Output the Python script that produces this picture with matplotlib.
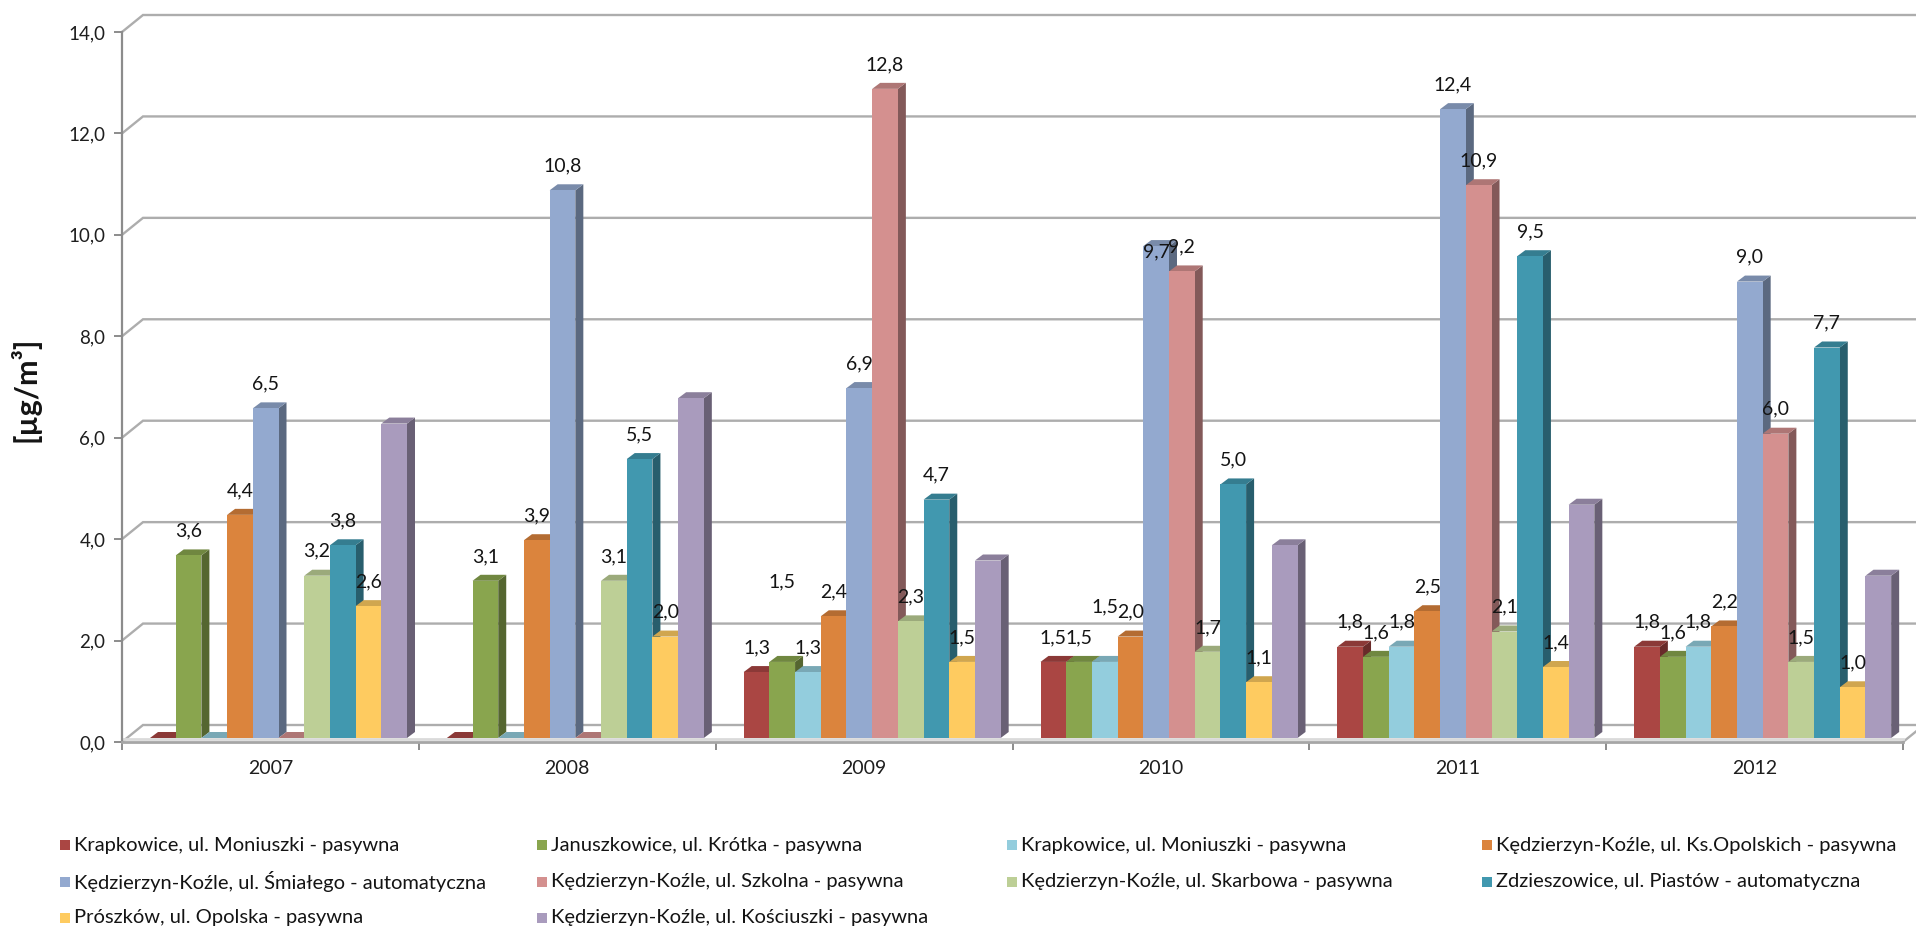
import matplotlib
matplotlib.use("Agg")
import matplotlib.pyplot as plt
from matplotlib.patches import Polygon, Rectangle
from matplotlib.ticker import FuncFormatter, FixedLocator
import matplotlib.colors as mcolors

# ---------------- data ----------------
years = ["2007", "2008", "2009", "2010", "2011", "2012"]
series_names = [
    "Krapkowice, ul. Moniuszki - pasywna",
    "Januszkowice, ul. Krótka - pasywna",
    "Krapkowice, ul. Moniuszki - pasywna",
    "Kędzierzyn-Koźle, ul. Ks.Opolskich - pasywna",
    "Kędzierzyn-Koźle, ul. Śmiałego - automatyczna",
    "Kędzierzyn-Koźle, ul. Szkolna - pasywna",
    "Kędzierzyn-Koźle, ul. Skarbowa - pasywna",
    "Zdzieszowice, ul. Piastów - automatyczna",
    "Prószków, ul. Opolska - pasywna",
    "Kędzierzyn-Koźle, ul. Kościuszki - pasywna",
]
krapkowice_a = [0.0, 0.0, 1.3, 1.5, 1.8, 1.8]
januszkowice = [3.6, 3.1, 1.5, 1.5, 1.6, 1.6]
krapkowice_b = [0.0, 0.0, 1.3, 1.5, 1.8, 1.8]
kk_opolskich = [4.4, 3.9, 2.4, 2.0, 2.5, 2.2]
kk_smialego = [6.5, 10.8, 6.9, 9.7, 12.4, 9.0]
kk_szkolna = [0.0, 0.0, 12.8, 9.2, 10.9, 6.0]
kk_skarbowa = [3.2, 3.1, 2.3, 1.7, 2.1, 1.5]
zdzieszowice = [3.8, 5.5, 4.7, 5.0, 9.5, 7.7]
proszkow = [2.6, 2.0, 1.5, 1.1, 1.4, 1.0]
kk_kosciuszki = [6.2, 6.7, 3.5, 3.8, 4.6, 3.2]
series_values = [krapkowice_a, januszkowice, krapkowice_b, kk_opolskich, kk_smialego,
                 kk_szkolna, kk_skarbowa, zdzieszowice, proszkow, kk_kosciuszki]
y_ticks = [0, 2, 4, 6, 8, 10, 12, 14]

# ---------------- style ----------------
colors = ["#AA4643", "#89A54E", "#93CDDD", "#DB843D", "#93A9CF",
          "#D4908F", "#BDCF96", "#4198AF", "#FECB60", "#A99BBD"]
show_label = [True] * 9 + [False]
# label nudges (year index, series index) -> extra offset in value units
label_nudge = {(2, 1): 1.1, (3, 2): 0.6, (3, 4): -0.6}

plt.rcParams['font.family'] = ['Lato', 'DejaVu Sans']

W, H = 1916, 933
fig = plt.figure(figsize=(W / 100, H / 100), dpi=100)
ax_left, ax_right, ax_bot, ax_top = 122, 1903, 742, 32
ax = fig.add_axes([ax_left / W, 1 - ax_bot / H, (ax_right - ax_left) / W, (ax_bot - ax_top) / H])
ncat = len(years)
ymax = 14
ax.set_xlim(0, ncat)
ax.set_ylim(0, ymax)
ux = ncat / (ax_right - ax_left)   # data units per px (x)
uy = ymax / (ax_bot - ax_top)      # data units per px (y)

grid_c = "#ADADAD"
axis_c = "#8C8C8C"

# back-wall gridlines with left-wall diagonals
gx, gy = 21 * ux, 17 * uy
for t in y_ticks:
    ax.plot([0, gx, ncat + 2 * gx], [t, t + gy, t + gy], color=grid_c, lw=1.7,
            clip_on=False, zorder=1, solid_joinstyle='miter')
# right floor edge
ax.plot([ncat, ncat + gx], [0, gy], color=grid_c, lw=1.7, clip_on=False, zorder=1)
# floor front band
ax.plot([0, ncat], [0.06, 0.06], color="#DADADA", lw=2.0, clip_on=False, zorder=1.5)

# 3D-looking bars
nser = len(series_values)
bw = 25.7 * ux
off = 28 * ux
dx, dy = 8 * ux, 6 * uy
base = 4 * uy


def shade(c, f):
    r, g, b = mcolors.to_rgb(c)
    return (r * f, g * f, b * f)


z = 2
for i in range(ncat):
    for j in range(nser):
        v = series_values[j][i]
        x0 = i + off + j * bw
        top = base + v
        col = colors[j]
        if v > 0:
            side = Polygon([(x0 + bw, base), (x0 + bw + dx, base + dy),
                            (x0 + bw + dx, top + dy), (x0 + bw, top)],
                           closed=True, facecolor=shade(col, 0.62), edgecolor='none', zorder=z)
            ax.add_patch(side)
        topf = Polygon([(x0, top), (x0 + bw, top), (x0 + bw + dx, top + dy), (x0 + dx, top + dy)],
                       closed=True, facecolor=shade(col, 0.82), edgecolor='none', zorder=z + 0.1)
        ax.add_patch(topf)
        if v > 0:
            ax.bar(x0, v, width=bw, bottom=base, align='edge', color=col,
                   edgecolor='none', zorder=z + 0.2)
        z += 0.3

# data labels
for i in range(ncat):
    for j in range(nser):
        v = series_values[j][i]
        if not show_label[j] or v <= 0:
            continue
        x0 = i + off + j * bw
        yl = v + 0.56 + label_nudge.get((i, j), 0.0)
        ax.text(x0 + bw / 2, yl, f"{v:.1f}".replace(".", ","), ha='center', va='center',
                fontsize=14, color="#141414", zorder=200)

# axes styling
for s in ["top", "right"]:
    ax.spines[s].set_visible(False)
ax.spines["left"].set_color(axis_c)
ax.spines["left"].set_linewidth(1.6)
ax.spines["bottom"].set_color("#A6A6A6")
ax.spines["bottom"].set_linewidth(2.0)

ax.yaxis.set_major_locator(FixedLocator(y_ticks))
ax.yaxis.set_major_formatter(FuncFormatter(lambda v, p: f"{v:.1f}".replace(".", ",")))
ax.tick_params(axis='y', length=6, width=1.4, color=axis_c, pad=6, labelsize=13.5,
               labelcolor="#1E1E1E")

ax.xaxis.set_major_locator(FixedLocator(range(ncat + 1)))
ax.xaxis.set_major_formatter(FuncFormatter(lambda v, p: ""))
ax.set_xticks([k + 0.5 for k in range(ncat)], labels=years, minor=True)
ax.tick_params(axis='x', which='major', length=6, width=1.4, color=axis_c)
ax.tick_params(axis='x', which='minor', length=0, pad=13, labelsize=14, labelcolor="#1E1E1E")
ax.set_facecolor('none')

# y label
fig.text(25 / W, 1 - 389 / H, "[µg/m³]", rotation=90, ha='center', va='center',
         fontsize=22, fontweight='bold', color="#141414")

# legend (manual, 4 columns, row-major)
col_x = [60, 537, 1007, 1482]
row_y = [845, 882, 918]
for k, name in enumerate(series_names):
    r, c = divmod(k, 4)
    mx, my = col_x[c], row_y[r]
    fig.patches.append(Rectangle((mx / W, 1 - (my + 5) / H), 10 / W, 10 / H,
                                 transform=fig.transFigure, facecolor=colors[k],
                                 edgecolor='none'))
    fig.text((mx + 14) / W, 1 - my / H, name, ha='left', va='center', fontsize=14.5,
             color="#141414")

fig.savefig("out.png", dpi=100)
